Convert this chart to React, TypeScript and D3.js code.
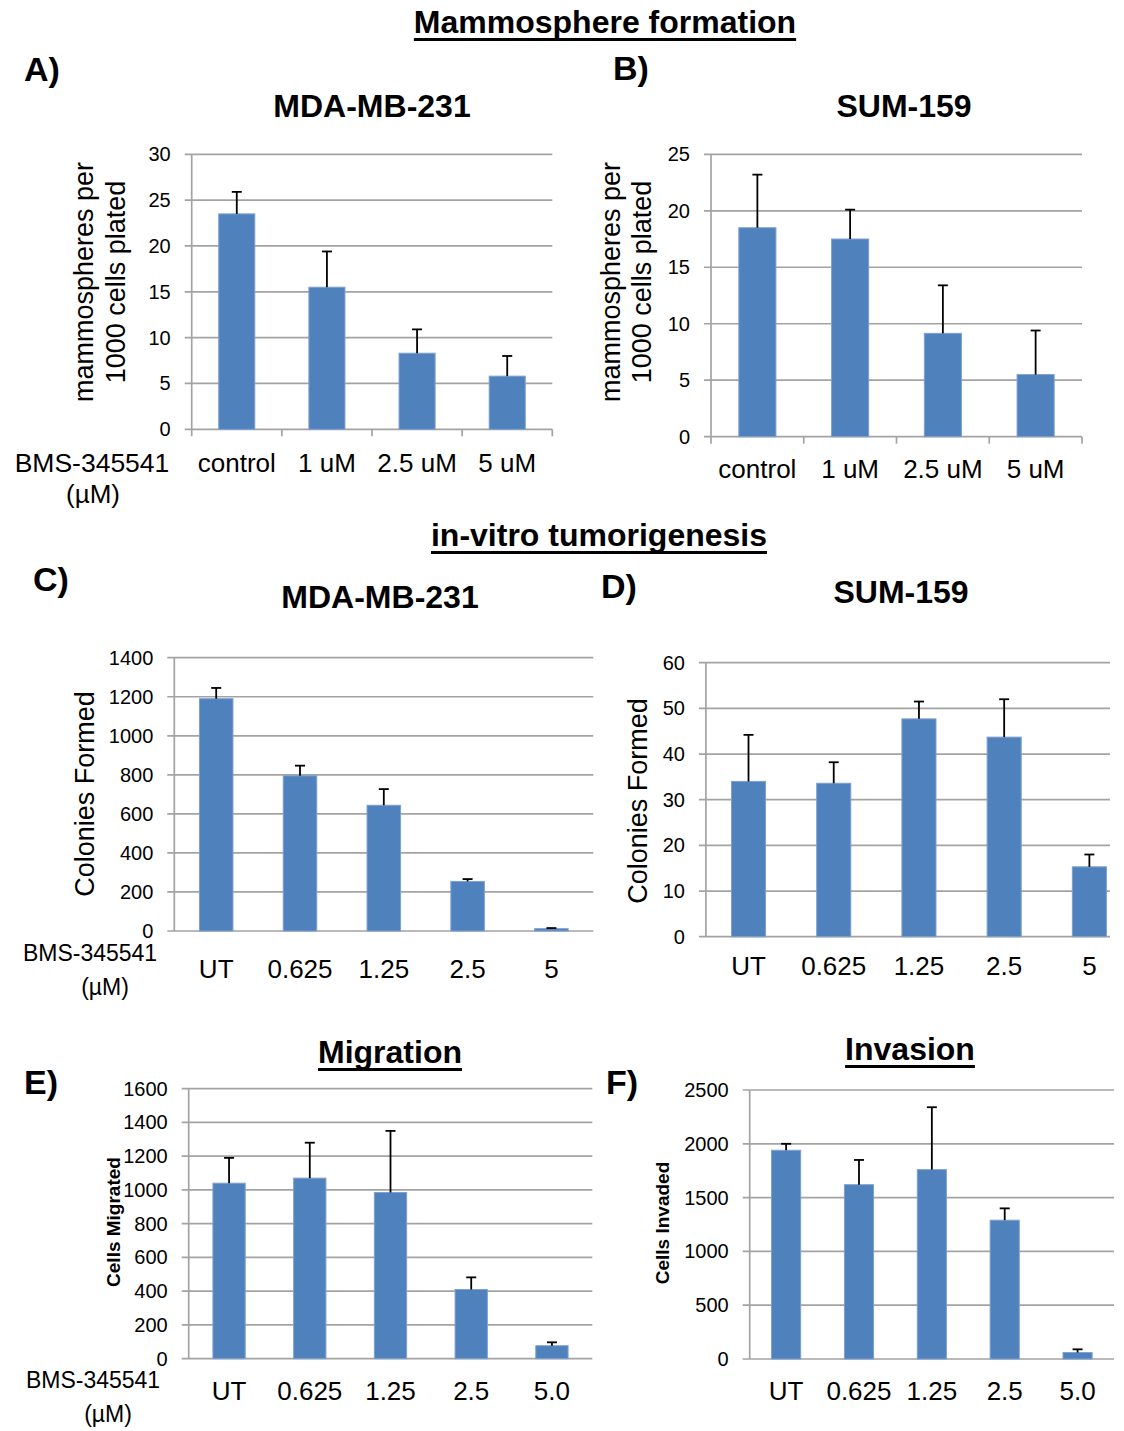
import React, { useRef, useLayoutEffect, useState } from "react";
import * as d3 from "d3";

// ---------- data ----------
const doseLabelsAB = ["control", "1 uM", "2.5 uM", "5 uM"];
const mammoMDA = [23.5, 15.5, 8.3, 5.8];
const mammoMDAErr = [2.4, 3.9, 2.6, 2.2];
const mammoSUM = [18.5, 17.5, 9.15, 5.5];
const mammoSUMErr = [4.7, 2.6, 4.25, 3.9];

const doseLabelsCD = ["UT", "0.625", "1.25", "2.5", "5"];
const coloniesMDA = [1190, 795, 644, 254, 12];
const coloniesMDAErr = [55, 52, 83, 12, 3];
const coloniesSUM = [34, 33.6, 47.7, 43.7, 15.3];
const coloniesSUMErr = [10.2, 4.6, 3.8, 8.3, 2.7];

const doseLabelsEF = ["UT", "0.625", "1.25", "2.5", "5.0"];
const migrated = [1040, 1070, 985, 410, 77];
const migratedErr = [150, 210, 365, 72, 20];
const invaded = [1940, 1620, 1760, 1290, 60];
const invadedErr = [60, 230, 580, 110, 30];

const ticksA = [0, 5, 10, 15, 20, 25, 30];
const ticksB = [0, 5, 10, 15, 20, 25];
const ticksC = [0, 200, 400, 600, 800, 1000, 1200, 1400];
const ticksD = [0, 10, 20, 30, 40, 50, 60];
const ticksE = [0, 200, 400, 600, 800, 1000, 1200, 1400, 1600];
const ticksF = [0, 500, 1000, 1500, 2000, 2500];

// ---------- style ----------
const FONT = "'Liberation Sans', Arial, Helvetica, sans-serif";
const BAR = "#4F81BD";
const BAR_EDGE = "#7FA0CF";
const GRID = "#A3A3A3";

type PanelProps = {
  left: number; right: number; top: number; bottom: number;
  ticks: number[]; categories: string[]; values: number[]; errors: number[];
  catBaseline: number; catFont?: number; tickFont?: number;
  xTickMarks?: boolean; gridRight?: number;
};

function BarPanel(p: PanelProps) {
  const { left, right, top, bottom, ticks, categories, values, errors, catBaseline } = p;
  const catFont = p.catFont ?? 26;
  const tickFont = p.tickFont ?? 20;
  const gr = p.gridRight ?? right;
  const x = d3.scaleBand<string>().domain(categories).range([left, right]).paddingInner(0.6).paddingOuter(0.3);
  const y = d3.scaleLinear().domain([0, ticks[ticks.length - 1]]).range([bottom, top]);
  const step = x.step();
  const bw = x.bandwidth();
  const cap = 10;
  return (
    <g>
      {ticks.map((t) => (
        <g key={t}>
          <line x1={left - 7} x2={gr} y1={y(t)} y2={y(t)} stroke={GRID} strokeWidth={1.7} />
          <text x={left - 21} y={y(t)} dy="0.35em" textAnchor="end" fontSize={tickFont}>{t}</text>
        </g>
      ))}
      <line x1={left} x2={left} y1={top} y2={bottom + (p.xTickMarks ? 7 : 0)} stroke={GRID} strokeWidth={1.7} />
      {p.xTickMarks && d3.range(1, categories.length + 1).map((i) => (
        <line key={i} x1={left + i * step} x2={left + i * step} y1={bottom} y2={bottom + 7} stroke={GRID} strokeWidth={1.7} />
      ))}
      {categories.map((c, i) => (
        <rect key={c} x={x(c)!} y={y(values[i])} width={bw} height={y(0) - y(values[i])}
          fill={BAR} stroke={BAR_EDGE} strokeWidth={1} />
      ))}
      {categories.map((c, i) => {
        const cx = x(c)! + bw / 2;
        const yt = y(values[i] + errors[i]);
        return (
          <g key={c} stroke="#000" strokeWidth={1.8}>
            <line x1={cx} x2={cx} y1={y(values[i])} y2={yt} />
            <line x1={cx - cap / 2} x2={cx + cap / 2} y1={yt} y2={yt} />
          </g>
        );
      })}
      {categories.map((c) => (
        <text key={c} x={x(c)! + bw / 2} y={catBaseline} textAnchor="middle" fontSize={catFont}>{c}</text>
      ))}
    </g>
  );
}

function UTitle({ x, y, text }: { x: number; y: number; text: string }) {
  const ref = useRef<SVGTextElement>(null);
  const [w, setW] = useState(0);
  useLayoutEffect(() => {
    if (ref.current) setW(ref.current.getComputedTextLength());
  }, [text]);
  return (
    <g>
      <text ref={ref} x={x} y={y} textAnchor="middle" fontWeight="bold" fontSize={32}>{text}</text>
      {w > 0 && <line x1={x - w / 2} x2={x + w / 2} y1={y + 6.5} y2={y + 6.5} stroke="#000" strokeWidth={3} />}
    </g>
  );
}

function VLabel({ cx, cy, text, size, bold }: { cx: number; cy: number; text: string; size: number; bold?: boolean }) {
  return (
    <text transform={`translate(${cx},${cy}) rotate(-90)`} textAnchor="middle" dy="0.35em"
      fontSize={size} fontWeight={bold ? "bold" : "normal"}>{text}</text>
  );
}

function Letter({ x, y, text }: { x: number; y: number; text: string }) {
  return <text x={x} y={y} fontSize={34} fontWeight="bold">{text}</text>;
}

function Sub({ x, y, text }: { x: number; y: number; text: string }) {
  return <text x={x} y={y} fontSize={32} fontWeight="bold" textAnchor="middle">{text}</text>;
}

export default function App() {
  return (
    <svg width={1124} height={1431} style={{ position: "absolute", left: 0, top: 0, background: "#fff" }}
      fontFamily={FONT} fill="#000">
      <rect width={1124} height={1431} fill="#fff" />
      {/* Row 1 */}
      <UTitle x={605} y={33} text="Mammosphere formation" />
      <Letter x={24} y={81} text="A)" />
      <Letter x={613} y={80} text="B)" />
      <Sub x={372} y={117} text="MDA-MB-231" />
      <Sub x={904} y={117} text="SUM-159" />
      <VLabel cx={84} cy={282} text="mammospheres per" size={27} />
      <VLabel cx={116} cy={282} text="1000 cells plated" size={27} />
      <VLabel cx={611} cy={282} text="mammospheres per" size={27} />
      <VLabel cx={642} cy={282} text="1000 cells plated" size={27} />
      <BarPanel left={191.7} right={552.3} top={154.3} bottom={429.3} ticks={ticksA}
        categories={doseLabelsAB} values={mammoMDA} errors={mammoMDAErr} catBaseline={472} xTickMarks />
      <BarPanel left={711} right={1082} top={154.3} bottom={436.7} ticks={ticksB}
        categories={doseLabelsAB} values={mammoSUM} errors={mammoSUMErr} catBaseline={478} xTickMarks />
      <text x={92} y={472} textAnchor="middle" fontSize={26.5}>BMS-345541</text>
      <text x={93} y={503} textAnchor="middle" fontSize={26}>(µM)</text>

      {/* Row 2 */}
      <UTitle x={599} y={546} text="in-vitro tumorigenesis" />
      <Letter x={33} y={591} text="C)" />
      <Letter x={601} y={598} text="D)" />
      <Sub x={380} y={608} text="MDA-MB-231" />
      <Sub x={901} y={603} text="SUM-159" />
      <VLabel cx={85} cy={794} text="Colonies Formed" size={27} />
      <VLabel cx={638} cy={801} text="Colonies Formed" size={27} />
      <BarPanel left={174.3} right={593.3} top={657.7} bottom={931} ticks={ticksC}
        categories={doseLabelsCD} values={coloniesMDA} errors={coloniesMDAErr} catBaseline={978} />
      <BarPanel left={705.9} right={1132} gridRight={1110} top={662.7} bottom={936.7} ticks={ticksD}
        categories={doseLabelsCD} values={coloniesSUM} errors={coloniesSUMErr} catBaseline={975} />
      <text x={90} y={961} textAnchor="middle" fontSize={23}>BMS-345541</text>
      <text x={105} y={995} textAnchor="middle" fontSize={23}>(µM)</text>

      {/* Row 3 */}
      <UTitle x={390} y={1063} text="Migration" />
      <UTitle x={910} y={1060} text="Invasion" />
      <Letter x={24} y={1094} text="E)" />
      <Letter x={606} y={1094} text="F)" />
      <VLabel cx={113} cy={1222} text="Cells Migrated" size={19} bold />
      <VLabel cx={662} cy={1223} text="Cells Invaded" size={19} bold />
      <BarPanel left={188.7} right={592.3} top={1088.7} bottom={1358.7} ticks={ticksE}
        categories={doseLabelsEF} values={migrated} errors={migratedErr} catBaseline={1400} />
      <BarPanel left={749.7} right={1114} top={1090} bottom={1359} ticks={ticksF}
        categories={doseLabelsEF} values={invaded} errors={invadedErr} catBaseline={1400} />
      <text x={93} y={1388} textAnchor="middle" fontSize={23}>BMS-345541</text>
      <text x={108} y={1422} textAnchor="middle" fontSize={23}>(µM)</text>
    </svg>
  );
}
